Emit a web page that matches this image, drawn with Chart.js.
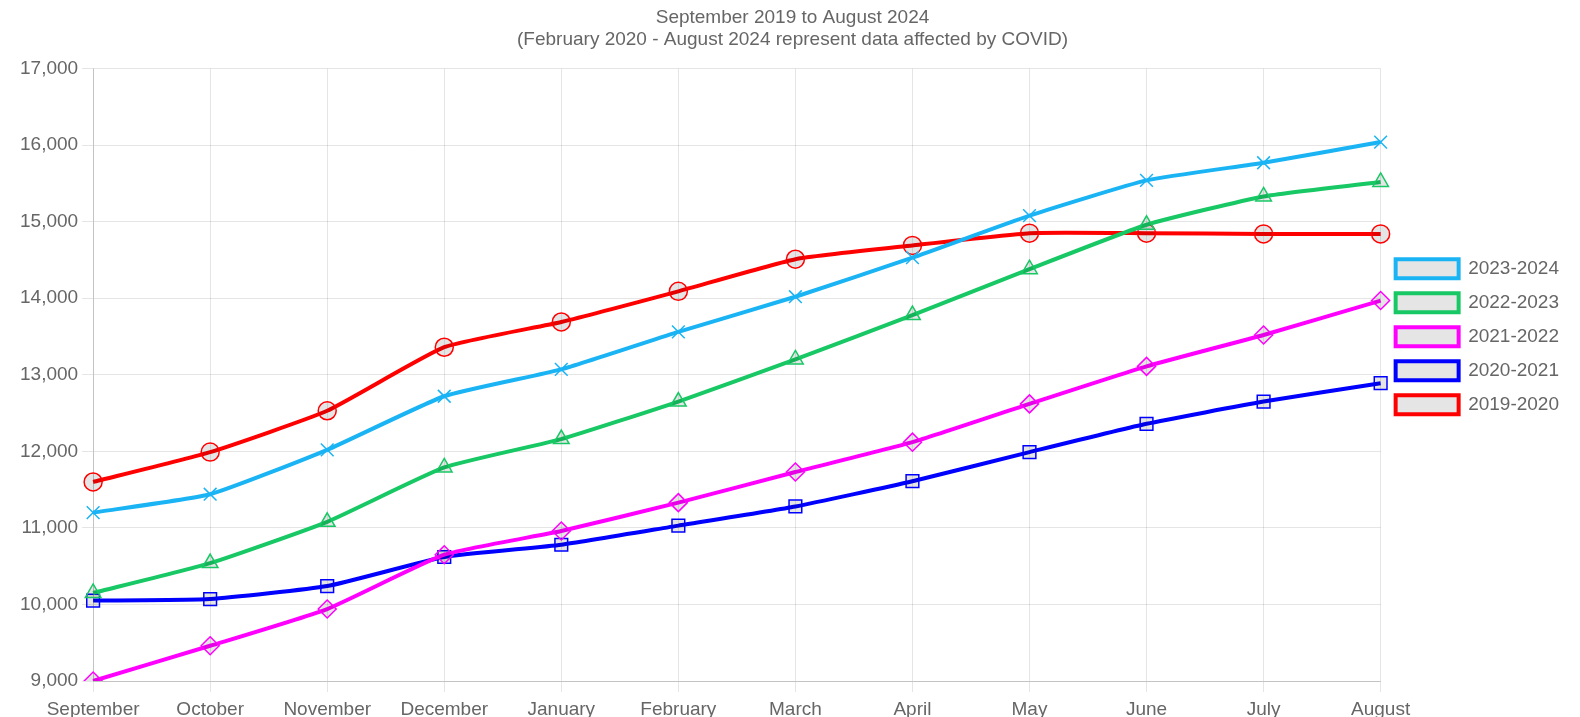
<!DOCTYPE html>
<html>
<head>
<meta charset="utf-8">
<script src="https://cdn.jsdelivr.net/npm/chart.js@4"></script>
<style>
  html, body { margin: 0; padding: 0; background: #fff; }
  #wrap { width: 1580px; height: 717px; }
</style>
</head>
<body>
<div id="wrap"><canvas id="chart" width="1580" height="717"></canvas></div>
<script>
const months = ["September", "October", "November", "December", "January", "February",
  "March", "April", "May", "June", "July", "August"];

const y2324 = [11200, 11440, 12020, 12720, 13070, 13560, 14020, 14530, 15080, 15540, 15770, 16040];
const y2223 = [10150, 10540, 11080, 11790, 12160, 12650, 13200, 13780, 14380, 14960, 15330, 15520];
const y2122 = [9000, 9460, 9940, 10650, 10960, 11330, 11730, 12120, 12620, 13110, 13520, 13970];
const y2021 = [10050, 10070, 10240, 10620, 10780, 11030, 11280, 11610, 11990, 12360, 12650, 12890];
const y1920 = [11600, 11990, 12530, 13360, 13690, 14090, 14510, 14690, 14850, 14850, 14840, 14840];

const titleLines = ["September 2019 to August 2024",
  "(February 2020 - August 2024 represent data affected by COVID)"];

Chart.defaults.font.family = "'Liberation Sans', Arial, sans-serif";
Chart.defaults.font.size = 19;
Chart.defaults.color = "#666";

function series(label, data, color, style) {
  return {
    label: label,
    data: data,
    borderColor: color,
    backgroundColor: "rgba(0,0,0,0.1)",
    borderWidth: 4,
    fill: false,
    tension: 0.15,
    pointStyle: style,
    pointRadius: 9,
    pointHoverRadius: 9,
    pointBorderWidth: 1.5,
    pointBorderColor: color,
    pointBackgroundColor: "rgba(0,0,0,0.1)"
  };
}

const ctx = document.getElementById("chart").getContext("2d");
new Chart(ctx, {
  type: "line",
  data: {
    labels: months,
    datasets: [
      series("2023-2024", y2324, "#1ab4f5", "crossRot"),
      series("2022-2023", y2223, "#17c864", "triangle"),
      series("2021-2022", y2122, "#ff00ff", "rectRot"),
      series("2020-2021", y2021, "#0000ff", "rect"),
      series("2019-2020", y1920, "#ff0000", "circle")
    ]
  },
  options: {
    responsive: false,
    animation: false,
    layout: { padding: { left: 16, right: 11, top: 0, bottom: -10 } },
    plugins: {
      title: {
        display: true,
        text: titleLines,
        font: { size: 19, weight: "normal" },
        color: "#666",
        padding: { top: 6, bottom: 17 }
      },
      legend: {
        position: "right",
        align: "start",
        // empty legend title only used as a spacer above the items
        title: { display: true, text: "", font: { size: 1 }, padding: { top: 243, bottom: 0 } },
        labels: {
          boxWidth: 63,
          boxHeight: 19,
          padding: 15,
          font: { size: 19 },
          color: "#666"
        }
      },
      tooltip: { enabled: false }
    },
    scales: {
      x: {
        grid: { color: "rgba(0,0,0,0.1)", tickLength: 11 },
        border: { color: "rgba(0,0,0,0.15)" },
        ticks: { padding: 8, maxRotation: 0, font: { size: 19, lineHeight: 1 } }
      },
      y: {
        min: 9000,
        max: 17000,
        grid: { color: "rgba(0,0,0,0.1)", tickLength: 11 },
        border: { color: "rgba(0,0,0,0.15)" },
        ticks: {
          stepSize: 1000,
          padding: 4,
          callback: v => v.toLocaleString("en-US")
        }
      }
    }
  }
});
</script>
</body>
</html>
